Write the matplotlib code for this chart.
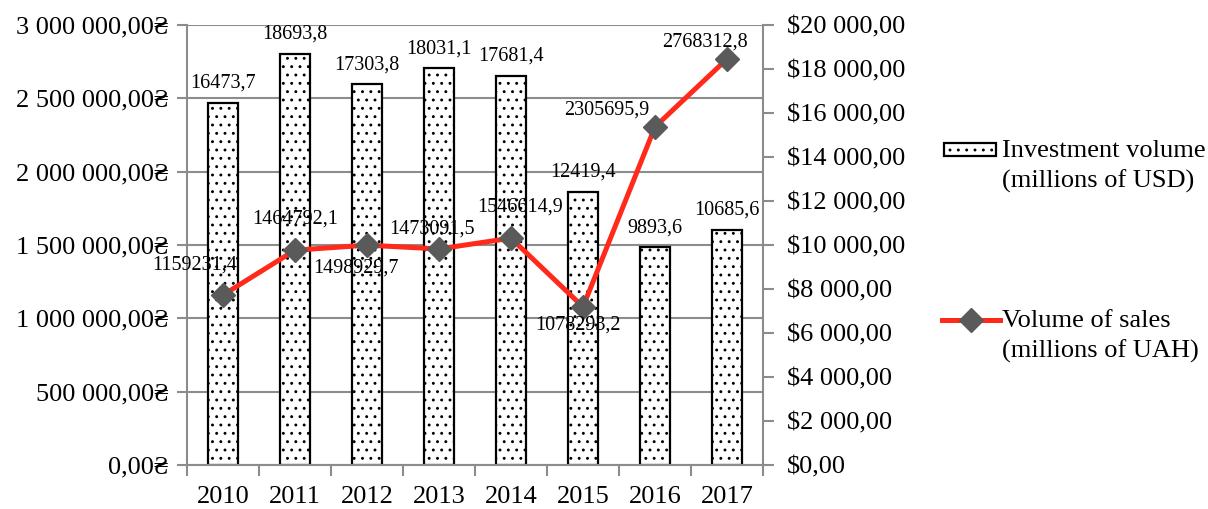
import numpy as np
import matplotlib
matplotlib.use("Agg")
import matplotlib.pyplot as plt
from matplotlib.ticker import FuncFormatter
from matplotlib.lines import Line2D
from matplotlib.patches import Rectangle

plt.rcParams['font.family'] = ['Liberation Serif', 'DejaVu Serif']
plt.rcParams['hatch.linewidth'] = 0.9

years = ["2010", "2011", "2012", "2013", "2014", "2015", "2016", "2017"]
investment = [16473.7, 18693.8, 17303.8, 18031.1, 17681.4, 12419.4, 9893.6, 10685.6]
sales = [1159231.4, 1464792.1, 1498929.7, 1473091.5, 1546614.9, 1078293.2, 2305695.9, 2768312.8]

# label offsets for the sales line (pixels, relative to the marker)
sales_off = [(-28, 30), (0, 31), (-11, -23), (-7, 20), (9, 31), (-5, -18), (-48, 17), (-22, 17)]

gray = "#8c8c8c"
red = "#ff2a1a"
mark = "#5a5a5a"
W, H = 1208, 509
fs = 19

fig = plt.figure(figsize=(W / 100, H / 100), dpi=100)
axb = fig.add_axes([187 / W, 1 - 465 / H, 576 / W, 440 / H])
axl = axb.twinx()

x = np.arange(len(years))

# bars -> right axis (USD)
axb.set_ylim(0, 20000)
axb.set_xlim(-0.5, 7.5)
left_ticks = np.arange(0, 3000001, 500000)
for v in left_ticks:
    axb.axhline(v * 20000 / 3e6, color=gray, lw=1.5, zorder=0)
axb.bar(x, investment, width=0.42, color="white", edgecolor="black",
        hatch="..", linewidth=1.6, zorder=2)
for xi, v in zip(x, investment):
    axb.annotate(("%.1f" % v).replace(".", ","), (xi, v), xytext=(0, 10),
                 textcoords="offset pixels", ha="center", va="bottom", fontsize=14.5)

# line -> left axis (UAH)
axl.set_ylim(0, 3000000)
axl.plot(x, sales, color=red, lw=3.6, marker="D", markersize=12,
         markerfacecolor=mark, markeredgecolor=mark, zorder=3)
for xi, v, (dx, dy) in zip(x, sales, sales_off):
    axl.annotate(("%.1f" % v).replace(".", ","), (xi, v), xytext=(dx, dy),
                 textcoords="offset pixels", ha="center", va="center", fontsize=14.5)

# swap sides: UAH on left, USD on right
axl.yaxis.tick_left()
axb.yaxis.tick_right()
axl.set_yticks(left_ticks)
axl.yaxis.set_major_formatter(FuncFormatter(
    lambda v, p: ("{:,.2f}".format(v)).replace(",", " ").replace(".", ",") + "\u20b4"))
axb.set_yticks(np.arange(0, 20001, 2000))
axb.yaxis.set_major_formatter(FuncFormatter(
    lambda v, p: "$" + ("{:,.2f}".format(v)).replace(",", " ").replace(".", ",")))

for ax in (axb, axl):
    for s in ax.spines.values():
        s.set_visible(False)
for ax, side in ((axl, "left"), (axb, "right"), (axb, "bottom")):
    ax.spines[side].set_visible(True)
    ax.spines[side].set_color(gray)
    ax.spines[side].set_linewidth(1.5)

axl.tick_params(axis="y", direction="out", length=7, width=1.5, color=gray,
                labelsize=fs, pad=6)
axb.tick_params(axis="y", direction="out", length=8, width=1.5, color=gray,
                labelsize=fs, pad=9)
axb.set_xticks(x)
axb.set_xticklabels(years)
axb.set_xticks(np.arange(-0.5, 8, 1), minor=True)
axb.tick_params(axis="x", which="major", length=0, labelsize=fs, pad=15)
axb.tick_params(axis="x", which="minor", length=8, width=1.5, color=gray, direction="out")
axl.tick_params(axis="x", length=0)

# legend drawn by hand (handles sit next to the first text line)
fig.add_artist(Rectangle((944 / W, 1 - 156 / H), 52 / W, 13 / H, transform=fig.transFigure,
                         facecolor="white", edgecolor="black", hatch="..", linewidth=1.6))
fig.add_artist(Line2D([942 / W, 1000 / W], [1 - 320 / H] * 2, transform=fig.transFigure,
                      color=red, lw=3.6))
fig.add_artist(Line2D([971 / W], [1 - 320 / H], transform=fig.transFigure, marker="D",
                      markersize=12, markerfacecolor=mark, markeredgecolor=mark, lw=0))
legend_lines = [("Investment volume", 157), ("(millions of USD)", 188),
                ("Volume of sales", 327), ("(millions of UAH)", 358)]
for txt, yb in legend_lines:
    fig.text(1002 / W, 1 - yb / H, txt, fontsize=fs, ha="left", va="baseline")

fig.savefig("out.png", dpi=100)
